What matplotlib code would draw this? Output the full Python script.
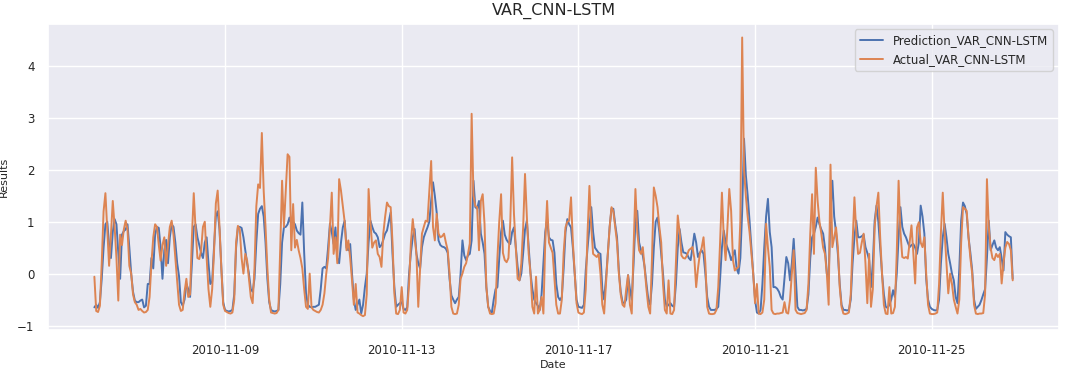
import matplotlib
matplotlib.use("Agg")
import matplotlib.pyplot as plt
import matplotlib.dates as mdates
import pandas as pd
import seaborn as sns

# hourly test window (one row per day)
start_time = "2010-11-06 01:00"

actual = [
    -0.06, -0.72, -0.74, -0.62, 0.2, 1.2, 1.55, 0.85, 0.15, 0.75, 1.4, 0.9, 0.3, -0.52, 0.75, 0.55, 0.85, 1.02, 0.85, 0.15, 0.0, -0.4, -0.55, -0.6,
    -0.7, -0.68, -0.72, -0.75, -0.74, -0.7, -0.45, 0.2, 0.7, 0.95, 0.9, 0.55, 0.25, 0.55, 0.7, 0.15, 0.55, 0.9, 1.02, 0.75, 0.3, -0.15, -0.6, -0.72,
    -0.7, -0.35, -0.1, -0.45, -0.4, 0.7, 1.55, 0.85, 0.3, 0.28, 0.45, 0.9, 1.0, 0.3, -0.3, -0.64, -0.3, 0.4, 1.35, 1.6, 0.9, 0.1, -0.6, -0.72,
    -0.74, -0.76, -0.77, -0.75, -0.5, 0.6, 0.92, 0.85, 0.3, 0.0, 0.38, 0.25, -0.1, -0.45, -0.57, 0.1, 1.3, 1.72, 1.65, 2.71, 1.6, 0.9, 0.1, -0.5,
    -0.75, -0.76, -0.77, -0.76, -0.7, 0.5, 1.79, 0.9, 1.6, 2.3, 2.25, 0.45, 1.34, 0.5, 0.65, 0.45, 0.3, 0.1, -0.3, -0.64, -0.68, 0.0, -0.65, -0.7,
    -0.72, -0.74, -0.75, -0.7, -0.6, -0.38, 0.0, 0.3, 0.9, 1.56, 0.38, 0.7, 0.2, 1.82, 1.6, 1.3, 1.0, 0.45, 0.64, 0.3, -0.13, -0.6, -0.2, -0.75,
    -0.77, -0.8, -0.82, -0.8, -0.4, 1.63, 1.0, 0.5, 0.6, 0.64, 0.38, 0.32, 0.13, 0.77, 1.1, 1.37, 1.3, 1.28, 0.6, -0.38, -0.77, -0.78, -0.7, -0.26,
    -0.75, -0.77, -0.7, -0.2, 0.6, 1.05, 0.7, 0.38, -0.64, 0.1, 0.77, 0.9, 1.02, 1.0, 1.6, 2.17, 0.9, 0.64, 1.15, 0.77, 0.7, 0.72, 0.77, 0.6,
    0.45, 0.0, -0.64, -0.77, -0.78, -0.77, -0.6, -0.1, 0.0, 0.13, 0.2, 0.38, 0.58, 3.08, 1.5, 1.3, 1.28, 0.45, 1.4, 1.53, 0.96, -0.26, -0.64, -0.77,
    -0.78, -0.77, -0.57, 0.3, 1.0, 1.53, 0.4, 0.26, 0.22, 0.3, 1.0, 2.24, 1.15, 0.5, -0.1, -0.13, 0.2, 0.9, 1.92, 1.1, 0.38, 0.0, -0.64, -0.77,
    -0.06, -0.77, -0.7, -0.45, -0.77, 0.6, 1.4, 0.6, 0.5, 0.4, -0.1, -0.6, -0.77, -0.77, -0.5, 0.4, 0.89, 1.0, 1.02, 1.47, 0.6, 0.0, -0.57, -0.75,
    -0.77, -0.78, -0.75, -0.3, 0.8, 1.69, 0.9, 0.38, 0.35, 0.32, 0.38, 0.0, -0.6, -0.77, -0.2, 0.38, 0.9, 1.28, 1.2, 0.9, 0.6, 0.0, -0.4, -0.6,
    -0.64, -0.3, -0.03, -0.6, -0.77, 0.5, 1.63, 0.8, 0.45, 0.38, 0.51, 0.1, -0.3, -0.64, -0.77, 0.3, 1.66, 1.5, 1.28, 0.9, 0.6, -0.2, -0.7, -0.77,
    -0.13, -0.77, -0.78, -0.7, 0.2, 1.12, 0.8, 0.35, 0.3, 0.29, 0.35, 0.45, 0.48, 0.51, 0.3, -0.26, 0.1, 0.38, 0.5, 0.7, 0.2, -0.64, -0.77, -0.78,
    -0.78, -0.77, -0.7, -0.26, 0.6, 1.56, 0.7, 0.26, 0.9, 1.63, 1.21, 0.26, 0.06, 0.1, 0.13, 1.0, 4.55, 2.0, 1.5, 1.1, 0.8, 0.4, 0.0, -0.57,
    -0.2, -0.77, -0.78, -0.75, -0.5, 0.96, 0.5, 0.13, -0.7, -0.77, -0.78, -0.77, -0.77, -0.76, -0.75, -0.55, -0.75, -0.77, -0.5, 0.0, 0.45, -0.7, -0.76, -0.77,
    -0.78, -0.77, -0.76, -0.7, -0.2, 0.77, 1.53, 0.38, 2.04, 1.4, 1.0, 0.77, 0.5, 0.38, 0.0, -0.6, 2.1, 0.51, 0.7, 0.89, 0.51, -0.26, -0.64, -0.77,
    -0.78, -0.77, -0.75, -0.4, 0.6, 1.47, 0.8, 0.38, 0.4, 0.6, 0.77, 0.2, -0.57, 0.38, -0.64, -0.3, 0.89, 1.3, 1.56, 0.7, 0.0, -0.6, -0.77, -0.78,
    -0.26, -0.77, -0.76, -0.64, 0.4, 1.79, 0.8, 0.32, 0.3, 0.32, 0.29, 0.6, 0.93, 0.4, -0.19, 0.89, 0.99, 0.6, 0.51, 0.7, 0.0, -0.6, -0.77, -0.78,
    -0.78, -0.77, -0.75, -0.2, 0.8, 1.56, 0.8, 0.2, -0.38, 0.0, -0.2, -0.5, -0.64, -0.77, -0.5, 0.6, 1.28, 1.25, 1.21, 0.7, 0.3, 0.0, -0.6, -0.77,
    -0.78, -0.77, -0.77, -0.76, -0.4, 1.82, 0.9, 0.5, 0.3, 0.26, 0.38, 0.32, 0.38, -0.19, 0.2, 0.5, 0.61, 0.57, 0.45, -0.13,
]

prediction = [
    -0.65, -0.6, -0.66, -0.55, -0.1, 0.5, 0.95, 1.0, 0.55, 0.3, 0.8, 1.05, 0.95, 0.4, -0.1, 0.75, 0.82, 0.85, 0.95, 0.5, 0.0, -0.35, -0.52, -0.55,
    -0.55, -0.52, -0.5, -0.65, -0.62, -0.2, -0.2, 0.3, 0.1, 0.75, 0.9, 0.88, 0.5, -0.1, 0.45, 0.65, 0.2, 0.7, 0.95, 0.9, 0.6, 0.2, -0.05, -0.55,
    -0.62, -0.5, -0.2, -0.3, -0.45, 0.2, 0.9, 0.95, 0.7, 0.55, 0.4, 0.3, 0.6, 0.7, 0.2, -0.2, -0.15, 0.5, 1.1, 1.2, 0.85, 0.1, -0.55, -0.7,
    -0.72, -0.73, -0.72, -0.7, -0.4, 0.5, 0.9, 0.9, 0.88, 0.7, 0.45, 0.2, 0.0, -0.3, -0.35, -0.1, 0.6, 1.15, 1.25, 1.3, 1.1, 0.6, -0.1, -0.55,
    -0.7, -0.72, -0.73, -0.72, -0.7, -0.2, 0.6, 0.89, 0.9, 0.95, 1.08, 0.95, 1.0, 0.95, 0.83, 0.78, 0.75, 1.37, 0.4, -0.38, -0.6, -0.64, -0.65, -0.64,
    -0.64, -0.62, -0.6, -0.3, 0.1, 0.13, 0.1, 0.5, 0.96, 0.8, 0.57, 0.89, 0.3, 0.2, 0.6, 0.89, 1.02, 0.5, 0.45, 0.57, 0.0, -0.5, -0.7, -0.6,
    -0.5, -0.77, -0.6, -0.26, 0.0, 0.6, 1.02, 0.9, 0.8, 0.77, 0.7, 0.51, 0.55, 0.65, 0.77, 0.83, 1.0, 1.18, 0.38, -0.26, -0.64, -0.6, -0.57, -0.55,
    -0.68, -0.7, -0.65, 0.0, 0.4, 0.7, 0.86, 0.38, 0.2, 0.1, 0.51, 0.7, 0.8, 0.89, 1.0, 1.4, 1.76, 1.5, 1.18, 0.64, 0.55, 0.52, 0.51, 0.48,
    0.4, -0.1, -0.42, -0.5, -0.57, -0.5, -0.45, 0.0, 0.64, 0.35, 0.26, 0.35, 0.38, 0.64, 1.79, 1.28, 1.25, 1.4, 0.77, 0.6, 0.38, -0.26, -0.64, -0.72,
    -0.75, -0.5, -0.3, -0.26, 0.3, 0.8, 1.02, 0.75, 0.65, 0.6, 0.57, 0.8, 0.89, 0.5, 0.13, -0.13, 0.0, 0.4, 0.85, 1.02, 0.5, 0.0, -0.3, -0.5,
    -0.57, -0.62, -0.7, -0.4, 0.2, 0.8, 1.05, 0.7, 0.65, 0.64, 0.4, -0.2, -0.45, -0.51, -0.45, 0.1, 0.8, 1.05, 0.95, 0.89, 0.5, 0.0, -0.5, -0.64,
    -0.65, -0.66, -0.6, 0.06, 0.5, 0.9, 1.28, 0.8, 0.5, 0.45, 0.4, 0.38, -0.3, -0.5, -0.1, 0.38, 0.9, 1.25, 1.25, 0.95, 0.7, 0.05, -0.35, -0.55,
    -0.57, -0.5, -0.03, -0.3, -0.5, 0.2, 1.0, 1.21, 0.6, 0.45, 0.35, 0.13, -0.2, -0.5, -0.6, -0.2, 0.5, 1.0, 1.08, 0.8, 0.38, 0.0, -0.5, -0.64,
    -0.6, -0.57, -0.62, -0.64, -0.2, 0.5, 0.86, 0.6, 0.41, 0.4, 0.38, 0.3, 0.26, 0.5, 0.77, 0.6, 0.32, 0.4, 0.45, 0.38, 0.0, -0.45, -0.64, -0.7,
    -0.7, -0.7, -0.68, -0.64, -0.1, 0.5, 0.83, 0.6, 0.5, 0.4, 0.26, 0.35, 0.45, 0.1, 0.0, 0.3, 1.2, 2.6, 1.9, 1.5, 1.02, 0.5, 0.0, -0.5,
    -0.75, -0.77, -0.7, -0.2, 0.5, 1.1, 1.44, 0.8, 0.51, -0.26, -0.26, -0.29, -0.35, -0.45, -0.5, -0.1, 0.32, 0.2, -0.13, 0.2, 0.67, 0.0, -0.64, -0.7,
    -0.7, -0.71, -0.7, -0.68, -0.4, 0.3, 0.7, 0.77, 0.9, 1.08, 0.95, 0.85, 0.77, 0.5, 0.0, -0.1, 1.2, 1.79, 1.1, 0.8, 0.38, -0.2, -0.6, -0.7,
    -0.7, -0.71, -0.7, -0.5, 0.2, 0.7, 1.02, 0.7, 0.7, 0.72, 0.75, 0.51, 0.4, 0.26, -0.26, 0.2, 1.02, 1.31, 1.0, 0.5, 0.0, -0.4, -0.64, -0.66,
    -0.6, -0.5, -0.32, -0.45, 0.0, 0.7, 1.28, 0.9, 0.77, 0.7, 0.6, 0.51, 0.55, 0.57, 0.5, 0.38, 0.6, 1.31, 1.1, 0.77, -0.1, -0.5, -0.64, -0.68,
    -0.7, -0.71, -0.7, -0.5, 0.2, 0.7, 0.96, 0.7, 0.38, 0.2, 0.0, -0.13, -0.45, -0.57, 0.1, 1.02, 1.37, 1.3, 1.15, 0.7, 0.4, 0.06, -0.5, -0.68,
    -0.64, -0.6, -0.51, -0.4, -0.3, 0.3, 1.02, 0.45, 0.55, 0.64, 0.5, 0.45, 0.51, 0.3, 0.06, 0.8, 0.75, 0.72, 0.7, -0.1,
]

model_name = "VAR_CNN-LSTM"


def main():
    dates = pd.date_range(start_time, periods=len(actual), freq="h")

    sns.set_theme(style="darkgrid")
    plt.rcParams["font.family"] = ["DejaVu Sans"]

    fig, ax = plt.subplots(figsize=(10.65, 3.68), dpi=100)
    fig.subplots_adjust(left=0.0455, right=0.994, top=0.936, bottom=0.103)

    ax.plot(dates, prediction, color="#4c72b0", lw=1.4, label=f"Prediction_{model_name}")
    ax.plot(dates, actual, color="#dd8452", lw=1.4, label=f"Actual_{model_name}")

    # ticks every 4 days: 9, 13, 17, 21, 25
    ax.xaxis.set_major_locator(mdates.DayLocator(bymonthday=range(1, 32, 4)))
    ax.xaxis.set_major_formatter(mdates.DateFormatter("%Y-%m-%d"))
    ax.tick_params(axis="both", labelsize=8.5, pad=4)

    ax.set_title(model_name, fontsize=11.5, pad=6)
    ax.set_xlabel("Date", fontsize=8, labelpad=2)
    ax.set_ylabel("Results", fontsize=8, labelpad=6)
    ax.legend(loc="upper right", fontsize=8.5)

    fig.savefig("out.png", dpi=100)
    plt.close(fig)


if __name__ == "__main__":
    main()
